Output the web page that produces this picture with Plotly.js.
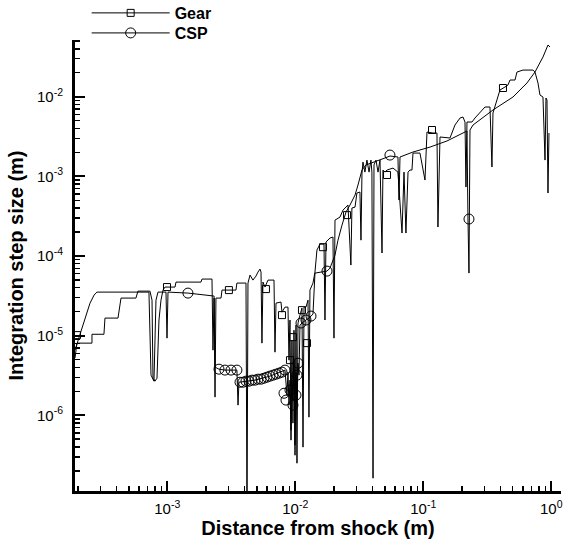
<!DOCTYPE html>
<html><head><meta charset="utf-8">
<script src="https://cdn.plot.ly/plotly-3.0.1.min.js"></script>
<style>body{margin:0;background:#fff}</style>
</head><body><div id="chart" style="width:564px;height:541px"></div>
<script>
// Gear series (distance from shock, integration step size)
const gearX = [
1.90e-4,1.97e-4,2.58e-4,2.58e-4,3.20e-4,3.26e-4,4.12e-4,4.35e-4,5.69e-4,5.90e-4,
7.32e-4,7.60e-4,7.73e-4,8.01e-4,8.31e-4,8.61e-4,8.93e-4,9.26e-4,9.59e-4,1.149e-3,
1.17e-3,1.833e-3,1.867e-3,2.235e-3,2.275e-3,2.32e-3,2.36e-3,2.40e-3,2.63e-3,2.675e-3,
3.44e-3,3.50e-3,4.12e-3,4.195e-3,4.27e-3,4.43e-3,4.67e-3,4.93e-3,5.11e-3,5.30e-3,
5.40e-3,5.49e-3,5.59e-3,5.80e-3,6.12e-3,6.82e-3,6.94e-3,7.07e-3,7.73e-3,7.87e-3,
8.31e-3,8.77e-3,8.93e-3,9.09e-3,9.26e-3,9.42e-3,9.59e-3,9.77e-3,9.95e-3,1.013e-2,
1.031e-2,1.050e-2,1.088e-2,1.128e-2,1.149e-2,1.17e-2,1.212e-2,1.257e-2,1.279e-2,1.302e-2,
1.375e-2,1.425e-2,1.477e-2,1.56e-2,1.676e-2,1.706e-2,1.737e-2,1.867e-2,1.97e-2,2.006e-2,
2.043e-2,2.235e-2,2.36e-2,2.58e-2,2.72e-2,2.77e-2,2.93e-2,3.03e-2,3.20e-2,3.26e-2,
3.32e-2,3.38e-2,3.50e-2,3.63e-2,3.77e-2,3.90e-2,3.97e-2,4.05e-2,4.12e-2,4.27e-2,
4.43e-2,4.59e-2,4.76e-2,4.84e-2,5.02e-2,5.21e-2,5.80e-2,6.34e-2,6.82e-2,7.07e-2,
7.32e-2,7.60e-2,7.87e-2,8.16e-2,8.31e-2,9.42e-2,0.1031,0.1069,0.119,0.1279,
0.1302,0.1351,0.1617,0.1676,0.1769,0.1936,0.2043,0.2118,0.2155,0.2195,
0.2402,0.2535,0.3034,0.332,0.344,0.3504,0.3973,0.4349,0.4590,0.4759,
0.5207,0.5395,0.601,0.7194,0.7459,0.7874,0.8161,0.8613,0.8933,0.9092,
0.9257,0.9424,0.9594];
const gearY = [
5.22e-6,8.05e-6,8.05e-6,1.04e-5,1.04e-5,1.66e-5,1.66e-5,2.96e-5,2.96e-5,3.62e-5,
3.62e-5,2.79e-5,2.92e-6,2.68e-6,2.92e-6,1.57e-5,2.79e-5,3.73e-5,4.07e-5,4.07e-5,
4.70e-5,4.70e-5,5.13e-5,5.13e-5,6.57e-6,2.96e-5,1.69e-6,2.96e-5,2.96e-5,3.73e-5,
3.73e-5,4.57e-5,4.57e-5,5e-8,4.57e-5,5.76e-5,4.98e-5,5.59e-5,6.28e-5,6.85e-5,
6.28e-5,8.05e-6,4.70e-5,4.07e-5,4.98e-5,4.98e-5,6.20e-6,2.56e-5,2.64e-5,1.97e-5,
2.28e-5,2.28e-5,4.92e-6,1.57e-5,6.50e-7,8.78e-6,7.96e-7,1.17e-5,4.21e-7,1.355e-5,
2.50e-7,1.44e-5,1.81e-5,2.22e-5,3.98e-7,2.28e-5,2.28e-5,2.79e-5,9.46e-7,3.73e-5,
4.57e-5,6.28e-5,1.19e-4,1.41e-4,1.41e-4,1.57e-5,1.50e-4,1.68e-4,1.73e-4,9.30e-6,
2.82e-4,3.08e-4,3.77e-4,4.36e-4,7.69e-5,4.00e-4,4.11e-4,6.17e-4,6.35e-4,1.58e-4,
1.10e-3,1.51e-3,1.13e-3,1.60e-3,1.13e-3,1.60e-3,1.13e-3,1.62e-7,1.39e-3,1.60e-3,
1.13e-3,1.60e-3,1.09e-4,1.20e-3,1.13e-3,1.20e-3,1.27e-3,1.13e-3,1.94e-4,1.13e-3,
1.94e-4,1.13e-3,1.20e-3,1.20e-3,1.96e-3,1.96e-3,8.98e-4,3.60e-3,3.50e-3,3.50e-3,
2.31e-4,3.12e-3,3.03e-3,3.50e-3,4.41e-3,5.40e-3,5.56e-3,4.81e-3,7.34e-4,4.81e-3,
4.81e-3,5.40e-3,7.42e-3,7.42e-3,1.31e-3,6.24e-3,1.214e-2,1.324e-2,1.403e-2,1.62e-2,
1.62e-2,2.04e-2,2.16e-2,2.16e-2,2.04e-2,1.487e-2,1.05e-2,9.91e-3,1.60e-3,9.63e-3,
9.09e-3,6.17e-4,3.50e-3];
// CSP series
const cspX = [
1.90e-4,2.01e-4,2.16e-4,2.32e-4,2.49e-4,2.68e-4,2.82e-4,5.80e-4,7.19e-4,7.46e-4,
7.87e-4,8.16e-4,8.46e-4,9.77e-4,9.95e-4,1.013e-3,1.45e-3,2.32e-3,2.36e-3,2.535e-3,
2.82e-3,3.146e-3,3.50e-3,3.57e-3,3.63e-3,4.84e-3,6.34e-3,8.31e-3,8.61e-3,8.77e-3,
8.93e-3,9.09e-3,9.26e-3,9.42e-3,9.59e-3,9.77e-3,9.95e-3,1.013e-2,1.031e-2,1.050e-2,
1.069e-2,1.088e-2,1.128e-2,1.212e-2,1.279e-2,1.375e-2,1.425e-2,1.769e-2,1.867e-2,2.043e-2,
2.156e-2,2.317e-2,2.49e-2,2.675e-2,2.93e-2,3.09e-2,3.32e-2,3.57e-2,3.97e-2,4.43e-2,
5.02e-2,5.49e-2,6.34e-2,6.46e-2,6.58e-2,8.31e-2,0.1128,0.1532,0.2043,0.2195,
0.2235,0.2275,0.2317,0.2446,0.3504,0.5021,0.6458,0.7459,0.8613,0.9257,
0.9424,0.9768];
const cspY = [
6.57e-6,8.78e-6,1.24e-5,1.81e-5,2.56e-5,3.23e-5,3.52e-5,3.52e-5,3.52e-5,3.19e-6,
2.68e-6,2.79e-5,3.52e-5,3.52e-5,9.30e-6,3.52e-5,3.42e-5,3.14e-5,4.02e-6,3.79e-6,
3.69e-6,3.69e-6,3.69e-6,1.34e-6,2.60e-6,2.76e-6,3.10e-6,3.69e-6,1.79e-6,3.48e-6,
1.34e-6,2.76e-6,4.87e-7,2.39e-6,1.55e-6,4.92e-6,3.15e-7,3.48e-6,1.55e-6,4.51e-6,
3.19e-6,1.355e-5,1.44e-5,1.57e-5,1.66e-5,1.86e-5,6.10e-5,6.46e-5,7.05e-5,1.026e-4,
1.58e-4,2.44e-4,3.56e-4,4.36e-4,5.82e-4,7.78e-4,1.20e-3,1.39e-3,1.47e-3,1.56e-3,
1.70e-3,1.80e-3,1.75e-3,5.04e-4,1.75e-3,2.02e-3,2.33e-3,2.78e-3,3.50e-3,3.71e-3,
2.91e-4,6.10e-5,3.82e-3,4.41e-3,6.81e-3,9.91e-3,1.487e-2,2.04e-2,3.15e-2,4.21e-2,
4.46e-2,4.21e-2];
// symbols placed along the curves
const gearMarkX = [1.97e-4,9.95e-4,3.03e-3,5.90e-3,7.87e-3,9.09e-3,9.59e-3,1.128e-2,1.234e-2,1.646e-2,2.535e-2,5.21e-2,0.117,0.4195];
const gearMarkY = [1.015e-5,4.07e-5,3.73e-5,3.84e-5,1.81e-5,4.92e-6,9.57e-6,2.09e-5,8.05e-6,1.29e-4,3.26e-4,1.04e-3,3.82e-3,1.286e-2];
const cspMarkX = [1.45e-3,2.535e-3,2.82e-3,3.146e-3,3.50e-3,3.70e-3,3.90e-3,4.12e-3,4.35e-3,4.59e-3,
4.84e-3,5.11e-3,5.40e-3,5.69e-3,6.01e-3,6.34e-3,6.70e-3,7.07e-3,7.46e-3,7.87e-3,
8.31e-3,8.16e-3,8.46e-3,9.09e-3,9.59e-3,1.013e-2,1.031e-2,1.050e-2,1.108e-2,1.212e-2,
1.327e-2,1.769e-2,5.49e-2,0.2275];
const cspMarkY = [3.42e-5,3.79e-6,3.69e-6,3.69e-6,3.69e-6,2.60e-6,2.60e-6,2.68e-6,2.68e-6,2.76e-6,
2.76e-6,2.84e-6,2.84e-6,2.92e-6,3.01e-6,3.10e-6,3.19e-6,3.28e-6,3.38e-6,3.48e-6,
3.69e-6,1.89e-6,1.55e-6,2.07e-6,1.34e-6,1.79e-6,3.19e-6,4.51e-6,1.44e-5,1.57e-5,
1.76e-5,6.46e-5,1.85e-3,2.91e-4];
const seriesNames = ['Gear', 'CSP'];
const xTickVals = [1e-3, 1e-2, 1e-1, 1];
const xTickText = ['10<sup>-3</sup>', '10<sup>-2</sup>', '10<sup>-1</sup>', '10<sup>0</sup>'];
const yTickVals = [1e-6, 1e-5, 1e-4, 1e-3, 1e-2];
const yTickText = ['10<sup>-6</sup>', '10<sup>-5</sup>', '10<sup>-4</sup>', '10<sup>-3</sup>', '10<sup>-2</sup>'];

const FONT = 'Liberation Sans, Arial, Helvetica, sans-serif';
const lineStyle = {color: '#000', width: 1};
const gearSym = {symbol: 'square-open', size: 7, color: '#000', line: {width: 1}};
const cspSym = {symbol: 'circle-open', size: 10, color: '#000', line: {width: 1}};
const traces = [
  {x: gearX, y: gearY, mode: 'lines', line: lineStyle, showlegend: false, hoverinfo: 'skip'},
  {x: cspX, y: cspY, mode: 'lines', line: lineStyle, showlegend: false, hoverinfo: 'skip'},
  {x: gearMarkX, y: gearMarkY, mode: 'markers', showlegend: false, marker: gearSym},
  {x: cspMarkX, y: cspMarkY, mode: 'markers', showlegend: false, marker: cspSym},
  {x: [null], y: [null], name: seriesNames[0], mode: 'lines+markers', line: lineStyle, marker: gearSym, legend: 'legend'},
  {x: [null], y: [null], name: seriesNames[1], mode: 'lines+markers', line: lineStyle, marker: cspSym, legend: 'legend2'}
];

const axisCommon = {
  type: 'log', showline: true, linewidth: 3, linecolor: '#000', mirror: false,
  showgrid: false, zeroline: false, ticks: 'inside', ticklen: 10, tickwidth: 2, tickcolor: '#000',
  tickmode: 'array', tickfont: {family: FONT, size: 15, color: '#000'}, automargin: false,
  minor: {ticks: 'inside', ticklen: 5, tickwidth: 1.5, tickcolor: '#000', dtick: 'D1', showgrid: false}
};
const legendFont = {family: FONT, size: 16, color: '#000', weight: 'bold'};
const legendCommon = {xref: 'paper', yref: 'paper', xanchor: 'left', yanchor: 'top', x: 0.024,
  itemwidth: 78, bgcolor: 'rgba(0,0,0,0)', borderwidth: 0, font: legendFont};
const titleFont = {family: FONT, size: 20, color: '#000', weight: 'bold'};

const layout = {
  width: 564, height: 541,
  margin: {l: 75, r: 3, t: 40, b: 50, autoexpand: false},
  paper_bgcolor: '#fff', plot_bgcolor: '#fff',
  showlegend: true,
  legend: Object.assign({}, legendCommon, {y: 1.0976}),
  legend2: Object.assign({}, legendCommon, {y: 1.0532}),
  xaxis: Object.assign({}, axisCommon, {
    range: [-3.721, 0.076], tickvals: xTickVals, ticktext: xTickText, ticklabelstandoff: 2,
    title: {text: 'Distance from shock (m)', font: titleFont, standoff: 0}
  }),
  yaxis: Object.assign({}, axisCommon, {
    range: [-6.951, -1.288], tickvals: yTickVals, ticktext: yTickText, ticklabelstandoff: 6,
    title: {text: 'Integration step size (m)', font: titleFont}
  })
};

Plotly.newPlot('chart', traces, layout, {displayModeBar: false, staticPlot: true});
</script>
</body></html>
